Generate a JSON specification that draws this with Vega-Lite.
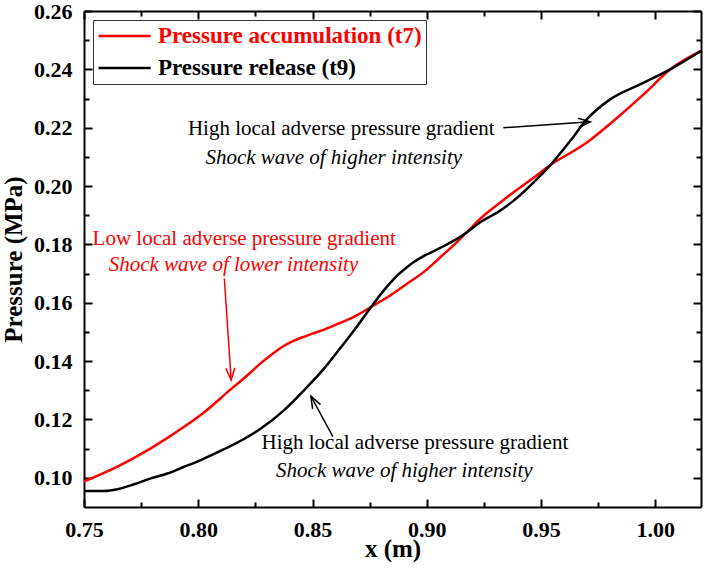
{
  "$schema": "https://vega.github.io/schema/vega-lite/v6.json",
  "width": 617,
  "height": 496,
  "autosize": {"type": "none"},
  "padding": {"left": 84, "top": 11, "right": 3, "bottom": 61},
  "background": "white",
  "config": {"view": {"stroke": null}, "font": "Liberation Serif"},
  "datasets": {
    "curves": [
      {"series": "Pressure accumulation (t7)", "x": 0.75, "y": 0.0987},
      {"series": "Pressure accumulation (t7)", "x": 0.7646, "y": 0.1038},
      {"series": "Pressure accumulation (t7)", "x": 0.7792, "y": 0.1101},
      {"series": "Pressure accumulation (t7)", "x": 0.7938, "y": 0.1175},
      {"series": "Pressure accumulation (t7)", "x": 0.8026, "y": 0.1225},
      {"series": "Pressure accumulation (t7)", "x": 0.8142, "y": 0.1303},
      {"series": "Pressure accumulation (t7)", "x": 0.8186, "y": 0.1332},
      {"series": "Pressure accumulation (t7)", "x": 0.823, "y": 0.1362},
      {"series": "Pressure accumulation (t7)", "x": 0.8274, "y": 0.1393},
      {"series": "Pressure accumulation (t7)", "x": 0.8318, "y": 0.1421},
      {"series": "Pressure accumulation (t7)", "x": 0.8362, "y": 0.1446},
      {"series": "Pressure accumulation (t7)", "x": 0.8405, "y": 0.1465},
      {"series": "Pressure accumulation (t7)", "x": 0.845, "y": 0.148},
      {"series": "Pressure accumulation (t7)", "x": 0.85, "y": 0.1494},
      {"series": "Pressure accumulation (t7)", "x": 0.8551, "y": 0.1508},
      {"series": "Pressure accumulation (t7)", "x": 0.8621, "y": 0.1531},
      {"series": "Pressure accumulation (t7)", "x": 0.8694, "y": 0.1557},
      {"series": "Pressure accumulation (t7)", "x": 0.8767, "y": 0.1591},
      {"series": "Pressure accumulation (t7)", "x": 0.884, "y": 0.1625},
      {"series": "Pressure accumulation (t7)", "x": 0.8913, "y": 0.1665},
      {"series": "Pressure accumulation (t7)", "x": 0.8986, "y": 0.1705},
      {"series": "Pressure accumulation (t7)", "x": 0.9059, "y": 0.1756},
      {"series": "Pressure accumulation (t7)", "x": 0.9132, "y": 0.1808},
      {"series": "Pressure accumulation (t7)", "x": 0.9176, "y": 0.1842},
      {"series": "Pressure accumulation (t7)", "x": 0.9234, "y": 0.1888},
      {"series": "Pressure accumulation (t7)", "x": 0.9322, "y": 0.1944},
      {"series": "Pressure accumulation (t7)", "x": 0.938, "y": 0.1979},
      {"series": "Pressure accumulation (t7)", "x": 0.9461, "y": 0.2025},
      {"series": "Pressure accumulation (t7)", "x": 0.9541, "y": 0.2072},
      {"series": "Pressure accumulation (t7)", "x": 0.9702, "y": 0.215},
      {"series": "Pressure accumulation (t7)", "x": 0.9818, "y": 0.2224},
      {"series": "Pressure accumulation (t7)", "x": 0.995, "y": 0.2315},
      {"series": "Pressure accumulation (t7)", "x": 1.0067, "y": 0.2401},
      {"series": "Pressure accumulation (t7)", "x": 1.02, "y": 0.2463},
      {"series": "Pressure release (t9)", "x": 0.75, "y": 0.0955},
      {"series": "Pressure release (t9)", "x": 0.7588, "y": 0.0955},
      {"series": "Pressure release (t9)", "x": 0.7646, "y": 0.0961},
      {"series": "Pressure release (t9)", "x": 0.7719, "y": 0.0978},
      {"series": "Pressure release (t9)", "x": 0.7792, "y": 0.0998},
      {"series": "Pressure release (t9)", "x": 0.7865, "y": 0.1015},
      {"series": "Pressure release (t9)", "x": 0.7938, "y": 0.1038},
      {"series": "Pressure release (t9)", "x": 0.8011, "y": 0.1061},
      {"series": "Pressure release (t9)", "x": 0.8113, "y": 0.1098},
      {"series": "Pressure release (t9)", "x": 0.82, "y": 0.1133},
      {"series": "Pressure release (t9)", "x": 0.8274, "y": 0.1169},
      {"series": "Pressure release (t9)", "x": 0.8376, "y": 0.1232},
      {"series": "Pressure release (t9)", "x": 0.8463, "y": 0.13},
      {"series": "Pressure release (t9)", "x": 0.8551, "y": 0.1375},
      {"series": "Pressure release (t9)", "x": 0.862, "y": 0.1443},
      {"series": "Pressure release (t9)", "x": 0.8687, "y": 0.1511},
      {"series": "Pressure release (t9)", "x": 0.8767, "y": 0.1597},
      {"series": "Pressure release (t9)", "x": 0.884, "y": 0.1668},
      {"series": "Pressure release (t9)", "x": 0.8876, "y": 0.1697},
      {"series": "Pressure release (t9)", "x": 0.8913, "y": 0.1722},
      {"series": "Pressure release (t9)", "x": 0.895, "y": 0.1743},
      {"series": "Pressure release (t9)", "x": 0.8986, "y": 0.176},
      {"series": "Pressure release (t9)", "x": 0.9059, "y": 0.1788},
      {"series": "Pressure release (t9)", "x": 0.9132, "y": 0.1819},
      {"series": "Pressure release (t9)", "x": 0.9176, "y": 0.1842},
      {"series": "Pressure release (t9)", "x": 0.9234, "y": 0.1876},
      {"series": "Pressure release (t9)", "x": 0.9322, "y": 0.1916},
      {"series": "Pressure release (t9)", "x": 0.938, "y": 0.195},
      {"series": "Pressure release (t9)", "x": 0.9497, "y": 0.2036},
      {"series": "Pressure release (t9)", "x": 0.9541, "y": 0.2072},
      {"series": "Pressure release (t9)", "x": 0.9628, "y": 0.2155},
      {"series": "Pressure release (t9)", "x": 0.9702, "y": 0.223},
      {"series": "Pressure release (t9)", "x": 0.9804, "y": 0.2298},
      {"series": "Pressure release (t9)", "x": 0.9935, "y": 0.2349},
      {"series": "Pressure release (t9)", "x": 1.0067, "y": 0.2401},
      {"series": "Pressure release (t9)", "x": 1.02, "y": 0.2463}
    ],
    "notes": [
      {"series": "Pressure release (t9)", "kind": "gradient", "x": 0.8626, "y": 0.2196, "text": "High local adverse pressure gradient"},
      {"series": "Pressure release (t9)", "kind": "shock", "x": 0.8593, "y": 0.2097, "text": "Shock wave of higher intensity"},
      {"series": "Pressure accumulation (t7)", "kind": "gradient", "x": 0.8201, "y": 0.1817, "text": "Low local adverse pressure gradient"},
      {"series": "Pressure accumulation (t7)", "kind": "shock", "x": 0.8154, "y": 0.1728, "text": "Shock wave of lower intensity"},
      {"series": "Pressure release (t9)", "kind": "gradient", "x": 0.8948, "y": 0.1119, "text": "High local adverse pressure gradient"},
      {"series": "Pressure release (t9)", "kind": "shock", "x": 0.8902, "y": 0.1024, "text": "Shock wave of higher intensity"}
    ],
    "arrows": [
      {"id": "a1", "series": "Pressure release (t9)", "end": "tail", "x": 0.9335, "y": 0.22, "angle": 356},
      {"id": "a1", "series": "Pressure release (t9)", "end": "head", "x": 0.9716, "y": 0.222, "angle": 356},
      {"id": "a2", "series": "Pressure accumulation (t7)", "end": "tail", "x": 0.8114, "y": 0.1683, "angle": 86},
      {"id": "a2", "series": "Pressure accumulation (t7)", "end": "head", "x": 0.8144, "y": 0.1335, "angle": 86},
      {"id": "a3", "series": "Pressure release (t9)", "end": "tail", "x": 0.8589, "y": 0.1141, "angle": 242},
      {"id": "a3", "series": "Pressure release (t9)", "end": "head", "x": 0.8493, "y": 0.128, "angle": 242}
    ]
  },
  "resolve": {"axis": {"x": "independent", "y": "independent"}},
  "layer": [
    {
      "data": {"name": "curves"},
      "mark": {"type": "line", "strokeWidth": 2.5, "interpolate": "monotone"},
      "encoding": {
        "x": {
          "field": "x", "type": "quantitative",
          "scale": {"domain": [0.75, 1.02], "nice": false, "zero": false},
          "axis": {
            "orient": "bottom",
            "values": [0.75, 0.775, 0.8, 0.825, 0.85, 0.875, 0.9, 0.925, 0.95, 0.975, 1.0],
            "labelExpr": "abs(datum.value*20 - round(datum.value*20)) < 0.001 ? format(datum.value, '.2f') : ''",
            "tickSize": {"condition": {"test": "abs(datum.value*20 - round(datum.value*20)) < 0.001", "value": -8}, "value": -5},
            "tickWidth": 2, "tickColor": "black",
            "domainColor": "black", "domainWidth": 2,
            "grid": false, "labelFlush": false, "labelOverlap": false,
            "labelFont": "Liberation Serif", "labelFontSize": 22, "labelFontWeight": "bold", "labelColor": "black",
            "labelPadding": 20,
            "title": "x (m)", "titleFont": "Liberation Serif", "titleFontSize": 25, "titleFontWeight": "bold", "titleColor": "black", "titlePadding": -7
          }
        },
        "y": {
          "field": "y", "type": "quantitative",
          "scale": {"domain": [0.09, 0.26], "nice": false, "zero": false},
          "axis": {
            "orient": "left",
            "values": [0.1, 0.11, 0.12, 0.13, 0.14, 0.15, 0.16, 0.17, 0.18, 0.19, 0.2, 0.21, 0.22, 0.23, 0.24, 0.25, 0.26],
            "labelExpr": "abs(datum.value*50 - round(datum.value*50)) < 0.001 ? format(datum.value, '.2f') : ''",
            "tickSize": {"condition": {"test": "abs(datum.value*50 - round(datum.value*50)) < 0.001", "value": -8}, "value": -5},
            "tickWidth": 2, "tickColor": "black",
            "domainColor": "black", "domainWidth": 2,
            "grid": false, "labelFlush": false, "labelOverlap": false,
            "labelFont": "Liberation Serif", "labelFontSize": 22, "labelFontWeight": "bold", "labelColor": "black",
            "labelPadding": 20,
            "title": "Pressure (MPa)", "titleFont": "Liberation Serif", "titleFontSize": 25, "titleFontWeight": "bold", "titleColor": "black", "titlePadding": 7
          }
        },
        "color": {
          "field": "series", "type": "nominal",
          "scale": {"domain": ["Pressure accumulation (t7)", "Pressure release (t9)"], "range": ["#ff0000", "#000000"]},
          "legend": {
            "orient": "none", "legendX": 9, "legendY": 9, "title": null,
            "symbolType": "M-1,0L4,0", "symbolSize": 433, "symbolStrokeWidth": 2.5,
            "labelFont": "Liberation Serif", "labelFontSize": 23, "labelFontWeight": "bold",
            "labelColor": {"expr": "datum.label == 'Pressure accumulation (t7)' ? '#ff0000' : '#000000'"},
            "labelLimit": 500, "labelOffset": 37,
            "strokeColor": "#333333", "fillColor": "white", "padding": 4, "rowPadding": 8
          }
        }
      }
    },
    {
      "data": {"name": "notes"},
      "transform": [{"filter": "datum.kind == 'gradient'"}],
      "mark": {"type": "text", "font": "Liberation Serif", "fontSize": 21, "align": "center", "baseline": "middle"},
      "encoding": {
        "x": {
          "field": "x", "type": "quantitative",
          "scale": {"domain": [0.75, 1.02], "nice": false, "zero": false},
          "axis": {
            "orient": "top", "labels": false, "title": null, "grid": false,
            "values": [0.75, 0.775, 0.8, 0.825, 0.85, 0.875, 0.9, 0.925, 0.95, 0.975, 1.0],
            "tickSize": {"condition": {"test": "abs(datum.value*20 - round(datum.value*20)) < 0.001", "value": -8}, "value": -5},
            "tickWidth": 2, "tickColor": "black", "domainColor": "black", "domainWidth": 2
          }
        },
        "y": {
          "field": "y", "type": "quantitative",
          "scale": {"domain": [0.09, 0.26], "nice": false, "zero": false},
          "axis": {
            "orient": "right", "labels": false, "title": null, "grid": false,
            "values": [0.1, 0.11, 0.12, 0.13, 0.14, 0.15, 0.16, 0.17, 0.18, 0.19, 0.2, 0.21, 0.22, 0.23, 0.24, 0.25, 0.26],
            "tickSize": {"condition": {"test": "abs(datum.value*50 - round(datum.value*50)) < 0.001", "value": -8}, "value": -5},
            "tickWidth": 2, "tickColor": "black", "domainColor": "black", "domainWidth": 2
          }
        },
        "text": {"field": "text"},
        "color": {"field": "series", "type": "nominal", "legend": null}
      }
    },
    {
      "data": {"name": "notes"},
      "transform": [{"filter": "datum.kind == 'shock'"}],
      "mark": {"type": "text", "font": "Liberation Serif", "fontSize": 21, "fontStyle": "italic", "align": "center", "baseline": "middle"},
      "encoding": {
        "x": {"field": "x", "type": "quantitative", "axis": null},
        "y": {"field": "y", "type": "quantitative", "axis": null},
        "text": {"field": "text"},
        "color": {"field": "series", "type": "nominal", "legend": null}
      }
    },
    {
      "data": {"name": "arrows"},
      "mark": {"type": "line", "strokeWidth": 1.5},
      "encoding": {
        "x": {"field": "x", "type": "quantitative", "axis": null},
        "y": {"field": "y", "type": "quantitative", "axis": null},
        "detail": {"field": "id"},
        "color": {"field": "series", "type": "nominal", "legend": null}
      }
    },
    {
      "data": {"name": "arrows"},
      "transform": [{"filter": "datum.end == 'head'"}],
      "mark": {"type": "point", "shape": "M-2,-0.75L0,0L-2,0.75", "filled": false, "strokeWidth": 1.5, "size": 144, "opacity": 1},
      "encoding": {
        "x": {"field": "x", "type": "quantitative", "axis": null},
        "y": {"field": "y", "type": "quantitative", "axis": null},
        "angle": {"field": "angle", "type": "quantitative", "scale": null},
        "color": {"field": "series", "type": "nominal", "legend": null}
      }
    }
  ]
}
